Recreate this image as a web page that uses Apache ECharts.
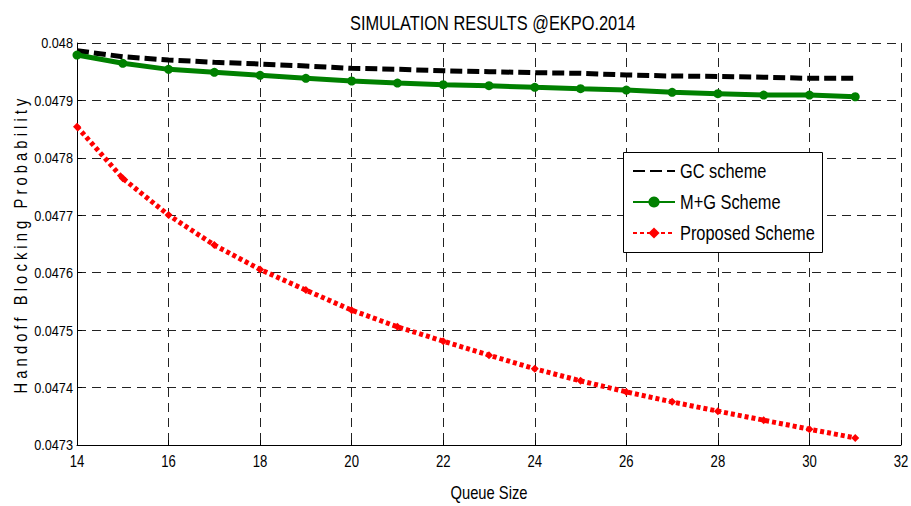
<!DOCTYPE html>
<html>
<head>
<meta charset="utf-8">
<script src="https://cdn.jsdelivr.net/npm/echarts@6/dist/echarts.min.js"></script>
<style>
html,body{margin:0;padding:0;background:#fff;}
#chart{width:911px;height:506px;}
</style>
</head>
<body>
<div id="chart"></div>
<script>
const titleText = 'SIMULATION RESULTS @EKPO.2014';
const xName = 'Queue Size';
const yName = 'Handoff Blocking Probability';
const queueSize = [14, 15, 16, 17, 18, 19, 20, 21, 22, 23, 24, 25, 26, 27, 28, 29, 30, 31];
const gcScheme = [0.0479866, 0.0479761, 0.0479704, 0.0479664, 0.0479634, 0.0479600, 0.0479559, 0.0479542, 0.0479517, 0.0479500, 0.0479483, 0.0479472, 0.0479443, 0.0479425, 0.0479418, 0.0479405, 0.0479385, 0.0479385];
const mgScheme = [0.0479790, 0.0479646, 0.0479541, 0.0479489, 0.0479437, 0.0479385, 0.0479338, 0.0479303, 0.0479274, 0.0479256, 0.0479228, 0.0479204, 0.0479181, 0.0479141, 0.0479117, 0.0479094, 0.0479094, 0.0479064];
const proposedScheme = [0.0478542, 0.0477643, 0.0477003, 0.0476481, 0.0476057, 0.0475697, 0.0475348, 0.0475058, 0.0474808, 0.0474564, 0.0474326, 0.0474117, 0.0473925, 0.0473751, 0.0473589, 0.0473432, 0.0473275, 0.0473124];
const seriesNames = ['GC scheme', 'M+G Scheme', 'Proposed Scheme'];

const FONT = "'Liberation Sans', Arial, sans-serif";
const pairs = arr => queueSize.map((x, i) => [x, arr[i]]);

const chart = echarts.init(document.getElementById('chart'), null, {renderer: 'svg'});
const option = {
  animation: false,
  backgroundColor: '#fff',
  title: {
    text: titleText, left: 345, top: 8,
    textStyle: {fontFamily: FONT, fontSize: 20, fontWeight: 'normal', color: '#000'}
  },
  grid: {left: 77, right: 10, top: 43, bottom: 61, containLabel: false, outerBoundsMode: 'none'},
  graphic: [{
    type: 'rect', left: 623, top: 152, z: 1, silent: true,
    shape: {width: 199, height: 100},
    style: {fill: '#fff', stroke: '#000', lineWidth: 1}
  }],
  legend: {
    orient: 'vertical', left: 623, top: 152, z: 5,
    padding: [9, 8, 9, 9],
    backgroundColor: 'transparent', borderWidth: 0,
    itemWidth: 42, itemHeight: 14, itemGap: 11,
    textStyle: {fontFamily: FONT, fontSize: 20, color: '#000', lineHeight: 20},
    data: [
      {name: seriesNames[0], itemStyle: {opacity: 0}},
      {name: seriesNames[1]},
      {name: seriesNames[2]}
    ]
  },
  xAxis: {
    type: 'value', min: 14, max: 32, interval: 2,
    name: xName, nameLocation: 'middle', nameGap: 38, nameMoveOverlap: false,
    nameTextStyle: {fontFamily: FONT, fontSize: 18, color: '#000'},
    axisLine: {show: true, onZero: false, lineStyle: {color: '#000', width: 1}},
    axisTick: {show: true, inside: true, length: 5, lineStyle: {color: '#000'}},
    axisLabel: {fontFamily: FONT, fontSize: 16, color: '#000', margin: 9},
    splitLine: {show: true, lineStyle: {color: '#222', type: [9, 6], width: 1}}
  },
  yAxis: {
    type: 'value', min: 0.0473, max: 0.048, interval: 0.0001,
    name: yName, nameLocation: 'middle', nameGap: 48, nameRotate: 90, nameMoveOverlap: false,
    nameTextStyle: {fontFamily: FONT, fontSize: 18, color: '#000'},
    axisLine: {show: true, onZero: false, lineStyle: {color: '#000', width: 1}},
    axisTick: {show: true, inside: true, length: 5, lineStyle: {color: '#000'}},
    axisLabel: {fontFamily: FONT, fontSize: 15.5, color: '#000', margin: 4,
      formatter: v => String(parseFloat(v.toFixed(4)))},
    splitLine: {show: true, lineStyle: {color: '#222', type: [9, 6], width: 1}}
  },
  series: [
    {
      name: seriesNames[0], type: 'line', data: pairs(gcScheme),
      symbol: 'none',
      itemStyle: {color: '#000'},
      lineStyle: {color: '#000', width: 5, type: [12, 5]}
    },
    {
      name: seriesNames[1], type: 'line', data: pairs(mgScheme),
      symbol: 'circle', symbolSize: 9,
      itemStyle: {color: '#008000'},
      lineStyle: {color: '#008000', width: 5}
    },
    {
      name: seriesNames[2], type: 'line', data: pairs(proposedScheme),
      symbol: 'diamond', symbolSize: 8,
      itemStyle: {color: '#ff0000'},
      lineStyle: {color: '#ff0000', width: 5, type: [4, 3]}
    }
  ]
};
chart.setOption(option);

// Emulate the narrow (condensed) typeface of the original: squeeze text glyphs horizontally
// around each text's anchor point.
function narrowText() {
  document.querySelectorAll('#chart text').forEach(t => {
    if (t.getAttribute('data-narrow')) return;
    t.setAttribute('data-narrow', '1');
    const x = parseFloat(t.getAttribute('x') || '0');
    const y = parseFloat(t.getAttribute('y') || '0');
    const tr = t.getAttribute('transform');
    const squeeze = 'translate(' + x + ' ' + y + ') scale(0.82 1) translate(' + (-x) + ' ' + (-y) + ')';
    t.setAttribute('transform', (tr ? tr + ' ' : '') + squeeze);
    if (t.textContent === yName) {
      t.setAttribute('letter-spacing', '5px');
    }
  });
}
narrowText();
chart.on('finished', narrowText);
</script>
</body>
</html>
